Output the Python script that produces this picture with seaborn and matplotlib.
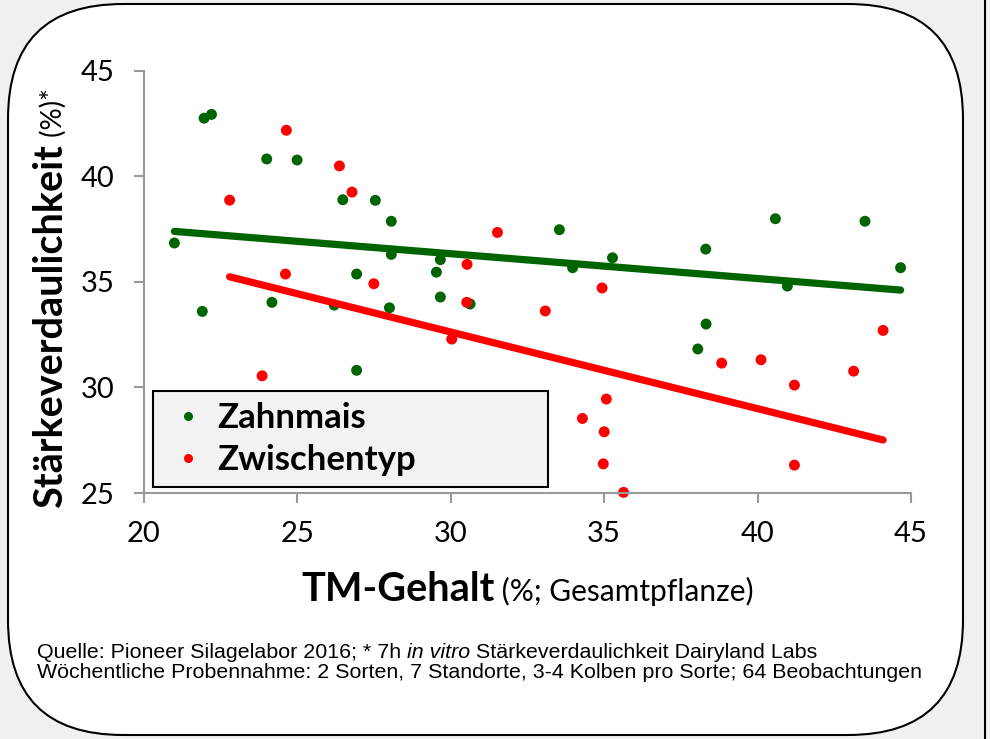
import numpy as np
import pandas as pd
import matplotlib
matplotlib.use('Agg')
import matplotlib.pyplot as plt
from matplotlib.patches import FancyBboxPatch
from matplotlib.lines import Line2D
from matplotlib.transforms import IdentityTransform
import seaborn as sns

# --- values ---
zahnmais_tm = [20.99, 21.9, 21.96, 22.2, 24.0, 24.17, 24.99, 26.2, 26.48, 26.93,
               26.93, 27.54, 28.0, 28.06, 28.06, 29.53, 29.66, 29.66, 30.63, 33.54,
               33.97, 35.27, 38.05, 38.31, 38.32, 40.58, 40.97, 43.5, 44.66]
zahnmais_staerke = [36.84, 33.6, 42.75, 42.93, 40.82, 34.03, 40.77, 33.9, 38.89, 35.37,
                    30.81, 38.86, 33.77, 37.87, 36.3, 35.46, 36.05, 34.28, 33.95, 37.47,
                    35.67, 36.14, 31.82, 36.55, 33.0, 37.99, 34.8, 37.87, 35.67]

zwischentyp_tm = [22.79, 23.85, 24.61, 24.64, 26.37, 26.78, 27.49, 30.03, 30.52, 30.53,
                  31.52, 33.08, 34.29, 34.93, 34.97, 35.0, 35.07, 35.63, 38.83, 40.11,
                  41.2, 41.2, 43.13, 44.09]
zwischentyp_staerke = [38.87, 30.55, 35.37, 42.18, 40.49, 39.25, 34.91, 32.29, 34.03, 35.83,
                       37.34, 33.62, 28.53, 34.71, 26.38, 27.9, 29.45, 25.03, 31.15, 31.31,
                       30.11, 26.32, 30.77, 32.7]

# linear trend lines (read at both ends)
zahnmais_trend_tm = [20.99, 44.66]
zahnmais_trend_staerke = [37.39, 34.61]
zwischentyp_trend_tm = [22.79, 44.09]
zwischentyp_trend_staerke = [35.24, 27.51]

series_labels = ['Zahnmais', 'Zwischentyp']
x_ticks = [20, 25, 30, 35, 40, 45]
y_ticks = [25, 30, 35, 40, 45]

GREEN = '#006400'
RED = '#ff0000'
AXIS_GRAY = '#999999'
W, H = 990, 739

sns.set_style('ticks')
plt.rcParams['font.family'] = ['Lato', 'DejaVu Sans']
plt.rcParams['text.color'] = 'black'
plt.rcParams['axes.labelcolor'] = 'black'

df = pd.DataFrame({
    'TM': zahnmais_tm + zwischentyp_tm,
    'Staerke': zahnmais_staerke + zwischentyp_staerke,
    'Sorte': [series_labels[0]] * len(zahnmais_tm) + [series_labels[1]] * len(zwischentyp_tm),
})

fig = plt.figure(figsize=(W / 100, H / 100), dpi=100, facecolor='#f0f0f0')

# rounded white frame behind everything
frame = FancyBboxPatch((8, 4), 955, 731, boxstyle='round,pad=0,rounding_size=115',
                       transform=IdentityTransform(), facecolor='white',
                       edgecolor='black', linewidth=1.5, zorder=-1)
fig.add_artist(frame)
fig.add_artist(Line2D([985 / W, 985 / W], [0, 1], transform=fig.transFigure,
                      color='black', linewidth=1.5))

ax = fig.add_axes([144 / W, 1 - 493 / H, 767 / W, 422.3 / H])
ax.set_facecolor('none')

sns.scatterplot(data=df, x='TM', y='Staerke', hue='Sorte', hue_order=series_labels,
                palette={series_labels[0]: GREEN, series_labels[1]: RED},
                s=62, linewidth=0, legend=False, clip_on=False, ax=ax, zorder=2)
sns.lineplot(x=zahnmais_trend_tm, y=zahnmais_trend_staerke, color=GREEN, linewidth=5.2,
             solid_capstyle='round', ax=ax, zorder=3)
sns.lineplot(x=zwischentyp_trend_tm, y=zwischentyp_trend_staerke, color=RED, linewidth=5.2,
             solid_capstyle='round', ax=ax, zorder=3)

ax.set_xlim(20, 45)
ax.set_ylim(25, 45)
ax.set_xticks(x_ticks)
ax.set_yticks(y_ticks)
ax.set_xlabel('')
ax.set_ylabel('')
for side in ['top', 'right']:
    ax.spines[side].set_visible(False)
for side in ['left', 'bottom']:
    ax.spines[side].set_color(AXIS_GRAY)
    ax.spines[side].set_linewidth(1.5)
ax.tick_params(axis='both', direction='out', length=7.2, width=1.5, color=AXIS_GRAY,
               labelsize=21, labelcolor='black')
ax.tick_params(axis='x', pad=13)
ax.tick_params(axis='y', pad=14)

handles = [Line2D([], [], marker='o', linestyle='', markersize=6.5, markerfacecolor=GREEN,
                  markeredgewidth=0),
           Line2D([], [], marker='o', linestyle='', markersize=6.5, markerfacecolor=RED,
                  markeredgewidth=0)]
leg = ax.legend(handles, series_labels, loc='lower left',
                bbox_to_anchor=(0.0113, 0.0149, 0.515, 0.5), mode='expand',
                borderaxespad=0, prop={'size': 25, 'weight': 'bold'},
                frameon=True, fancybox=False, framealpha=1, facecolor='#f2f2f2',
                edgecolor='black', handlelength=1.45, handletextpad=0.1,
                labelspacing=0.3, borderpad=0.3)
leg.get_frame().set_linewidth(1.5)

# axis titles made of a bold part and a regular part
fig.canvas.draw()
r = fig.canvas.get_renderer()

xb = fig.text(0, 1 - 601 / H, 'TM-Gehalt', fontsize=28.5, fontweight='bold',
              ha='left', va='baseline')
xr = fig.text(0, 1 - 601 / H, ' (%; Gesamtpflanze)', fontsize=21.5,
              ha='left', va='baseline')
w1 = xb.get_window_extent(r).width
w2 = xr.get_window_extent(r).width
x0 = 527.5 - (w1 + w2) / 2
xb.set_x(x0 / W)
xr.set_x((x0 + w1) / W)

yb = fig.text(62 / W, 1 - 508 / H, 'Stärkeverdaulichkeit', fontsize=28.5, fontweight='bold',
              rotation=90, rotation_mode='anchor', ha='left', va='baseline')
h1 = yb.get_window_extent(r).height
fig.text(62 / W, 1 - (508 - h1) / H, ' (%)*', fontsize=20,
         rotation=90, rotation_mode='anchor', ha='left', va='baseline')

# source notes
note_font = ['Liberation Sans', 'DejaVu Sans']
note_size = 15.4
y1 = 1 - 658 / H
p1 = fig.text(37 / W, y1, 'Quelle: Pioneer Silagelabor 2016; * 7h ', fontsize=note_size,
              family=note_font, ha='left', va='baseline')
wa = p1.get_window_extent(r).width
p2 = fig.text((37 + wa) / W, y1, 'in vitro', fontsize=note_size, style='italic',
              family=note_font, ha='left', va='baseline')
wb = p2.get_window_extent(r).width
fig.text((37 + wa + wb) / W, y1, ' Stärkeverdaulichkeit Dairyland Labs', fontsize=note_size,
         family=note_font, ha='left', va='baseline')
fig.text(37 / W, 1 - 678 / H,
         'Wöchentliche Probennahme: 2 Sorten, 7 Standorte, 3-4 Kolben pro Sorte; 64 Beobachtungen',
         fontsize=note_size, family=note_font, ha='left', va='baseline')

fig.savefig('out.png', dpi=100, facecolor=fig.get_facecolor())
